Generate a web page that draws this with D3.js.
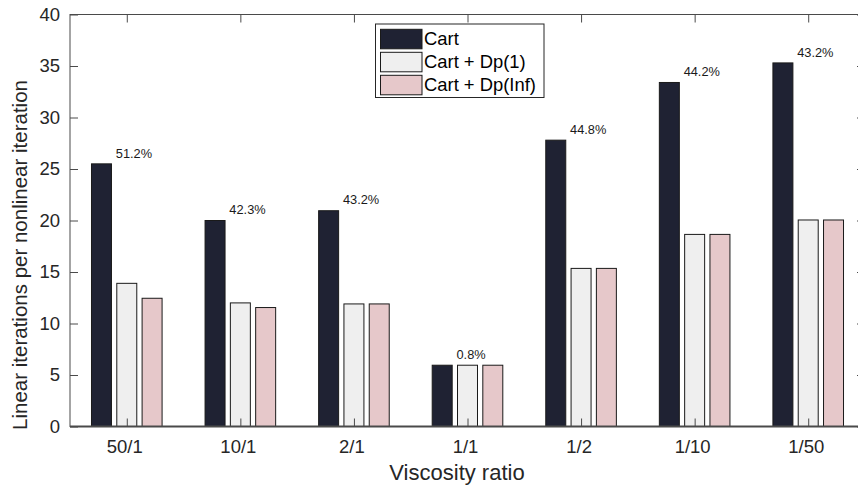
<!DOCTYPE html>
<html>
<head>
<meta charset="utf-8">
<script src="https://cdn.jsdelivr.net/npm/d3@7"></script>
<style>
  body { margin: 0; background: #fff; }
  svg { display: block; font-family: "Liberation Sans", Arial, Helvetica, sans-serif; }
</style>
</head>
<body>
<div id="chart"></div>
<script>
// data
const categories = ['50/1', '10/1', '2/1', '1/1', '1/2', '1/10', '1/50'];
const cart = [25.5, 20.0, 20.95, 5.95, 27.8, 33.4, 35.3];
const cartDp1 = [13.9, 12.0, 11.9, 5.95, 15.35, 18.65, 20.05];
const cartDpInf = [12.45, 11.55, 11.9, 5.95, 15.35, 18.65, 20.05];
const reductionLabels = ['51.2%', '42.3%', '43.2%', '0.8%', '44.8%', '44.2%', '43.2%'];
const yTicks = [0, 5, 10, 15, 20, 25, 30, 35, 40];

const series = [
  { name: 'Cart', values: cart, color: '#1f2233' },
  { name: 'Cart + Dp(1)', values: cartDp1, color: '#efefef' },
  { name: 'Cart + Dp(Inf)', values: cartDpInf, color: '#e6c8ca' },
];

const width = 858;
const height = 486;
const plot = {
  left: 70, right: 865, top: 14.5, bottom: 426.5,
};

const svg = d3.select('#chart').append('svg')
  .attr('width', width)
  .attr('height', height);

const x = d3.scaleLinear().domain([0.5, 7.5]).range([plot.left, plot.right]);
const y = d3.scaleLinear().domain([0, 40]).range([plot.bottom, plot.top]);

const barOffset = 0.2228; // in category units
const barWidth = x(0.176) - x(0);

// bars
series.forEach((s, si) => {
  svg.append('g').selectAll('rect')
    .data(s.values)
    .enter()
    .append('rect')
    .attr('x', (d, i) => x(i + 1 + (si - 1) * barOffset) - barWidth / 2)
    .attr('y', (d) => y(d))
    .attr('width', barWidth)
    .attr('height', (d) => y(0) - y(d))
    .attr('fill', s.color)
    .attr('stroke', '#1a1a1a')
    .attr('stroke-width', 1);
});

// percentage labels above the Cart bars
svg.append('g').selectAll('text')
  .data(reductionLabels)
  .enter()
  .append('text')
  .attr('x', (d, i) => x(i + 1) - 11)
  .attr('y', (d, i) => y(cart[i]) - 6.3)
  .attr('font-size', 12.8)
  .attr('fill', '#1a1a1a')
  .text((d) => d);

// axes box with inward ticks
const axisColor = '#4a4a4a';
const tickLen = 8;
const axes = svg.append('g');

axes.append('rect')
  .attr('x', plot.left)
  .attr('y', plot.top)
  .attr('width', plot.right - plot.left)
  .attr('height', plot.bottom - plot.top)
  .attr('fill', 'none')
  .attr('stroke', axisColor)
  .attr('stroke-width', 1);

axes.append('line')
  .attr('x1', plot.left)
  .attr('x2', plot.right)
  .attr('y1', plot.bottom)
  .attr('y2', plot.bottom)
  .attr('stroke', axisColor)
  .attr('stroke-width', 2);

const yAxisLeft = d3.axisRight(y).tickValues(yTicks).tickSize(tickLen).tickFormat('');
const yAxisRight = d3.axisLeft(y).tickValues(yTicks).tickSize(tickLen).tickFormat('');
const xAxisBottom = d3.axisTop(x).tickValues(d3.range(1, 8)).tickSize(tickLen).tickFormat('');
const xAxisTop = d3.axisBottom(x).tickValues(d3.range(1, 8)).tickSize(tickLen).tickFormat('');

axes.append('g').attr('transform', `translate(${plot.left},0)`).call(yAxisLeft);
axes.append('g').attr('transform', `translate(${plot.right},0)`).call(yAxisRight);
axes.append('g').attr('transform', `translate(0,${plot.bottom})`).call(xAxisBottom);
axes.append('g').attr('transform', `translate(0,${plot.top})`).call(xAxisTop);
axes.selectAll('.domain').remove();
axes.selectAll('.tick line').attr('stroke', axisColor);

// tick labels
svg.append('g').selectAll('text')
  .data(yTicks)
  .enter()
  .append('text')
  .attr('x', plot.left - 10)
  .attr('y', (d) => y(d))
  .attr('dy', '0.35em')
  .attr('text-anchor', 'end')
  .attr('font-size', 18.5)
  .attr('fill', '#262626')
  .text((d) => d);

svg.append('g').selectAll('text')
  .data(categories)
  .enter()
  .append('text')
  .attr('x', (d, i) => x(i + 1) - 2)
  .attr('y', 453.3)
  .attr('text-anchor', 'middle')
  .attr('font-size', 18.5)
  .attr('fill', '#262626')
  .text((d) => d);

// axis titles
svg.append('text')
  .attr('x', 457)
  .attr('y', 480)
  .attr('text-anchor', 'middle')
  .attr('font-size', 22)
  .attr('fill', '#262626')
  .text('Viscosity ratio');

svg.append('text')
  .attr('transform', 'translate(27,255) rotate(-90)')
  .attr('text-anchor', 'middle')
  .attr('font-size', 20.5)
  .attr('fill', '#262626')
  .text('Linear iterations per nonlinear iteration');

// legend
const legend = svg.append('g').attr('transform', 'translate(375.5,24)');
legend.append('rect')
  .attr('width', 168.5)
  .attr('height', 73.5)
  .attr('fill', '#fff')
  .attr('stroke', '#262626')
  .attr('stroke-width', 1);

const rows = legend.selectAll('g.row')
  .data(series)
  .enter()
  .append('g')
  .attr('class', 'row')
  .attr('transform', (d, i) => `translate(0,${5.3 + i * 23})`);

rows.append('rect')
  .attr('x', 5)
  .attr('width', 41.5)
  .attr('height', 19.5)
  .attr('fill', (d) => d.color)
  .attr('stroke', '#1a1a1a')
  .attr('stroke-width', 1);

rows.append('text')
  .attr('x', 48.5)
  .attr('y', 16)
  .attr('font-size', 18.4)
  .attr('fill', '#000')
  .text((d) => d.name);
</script>
</body>
</html>
